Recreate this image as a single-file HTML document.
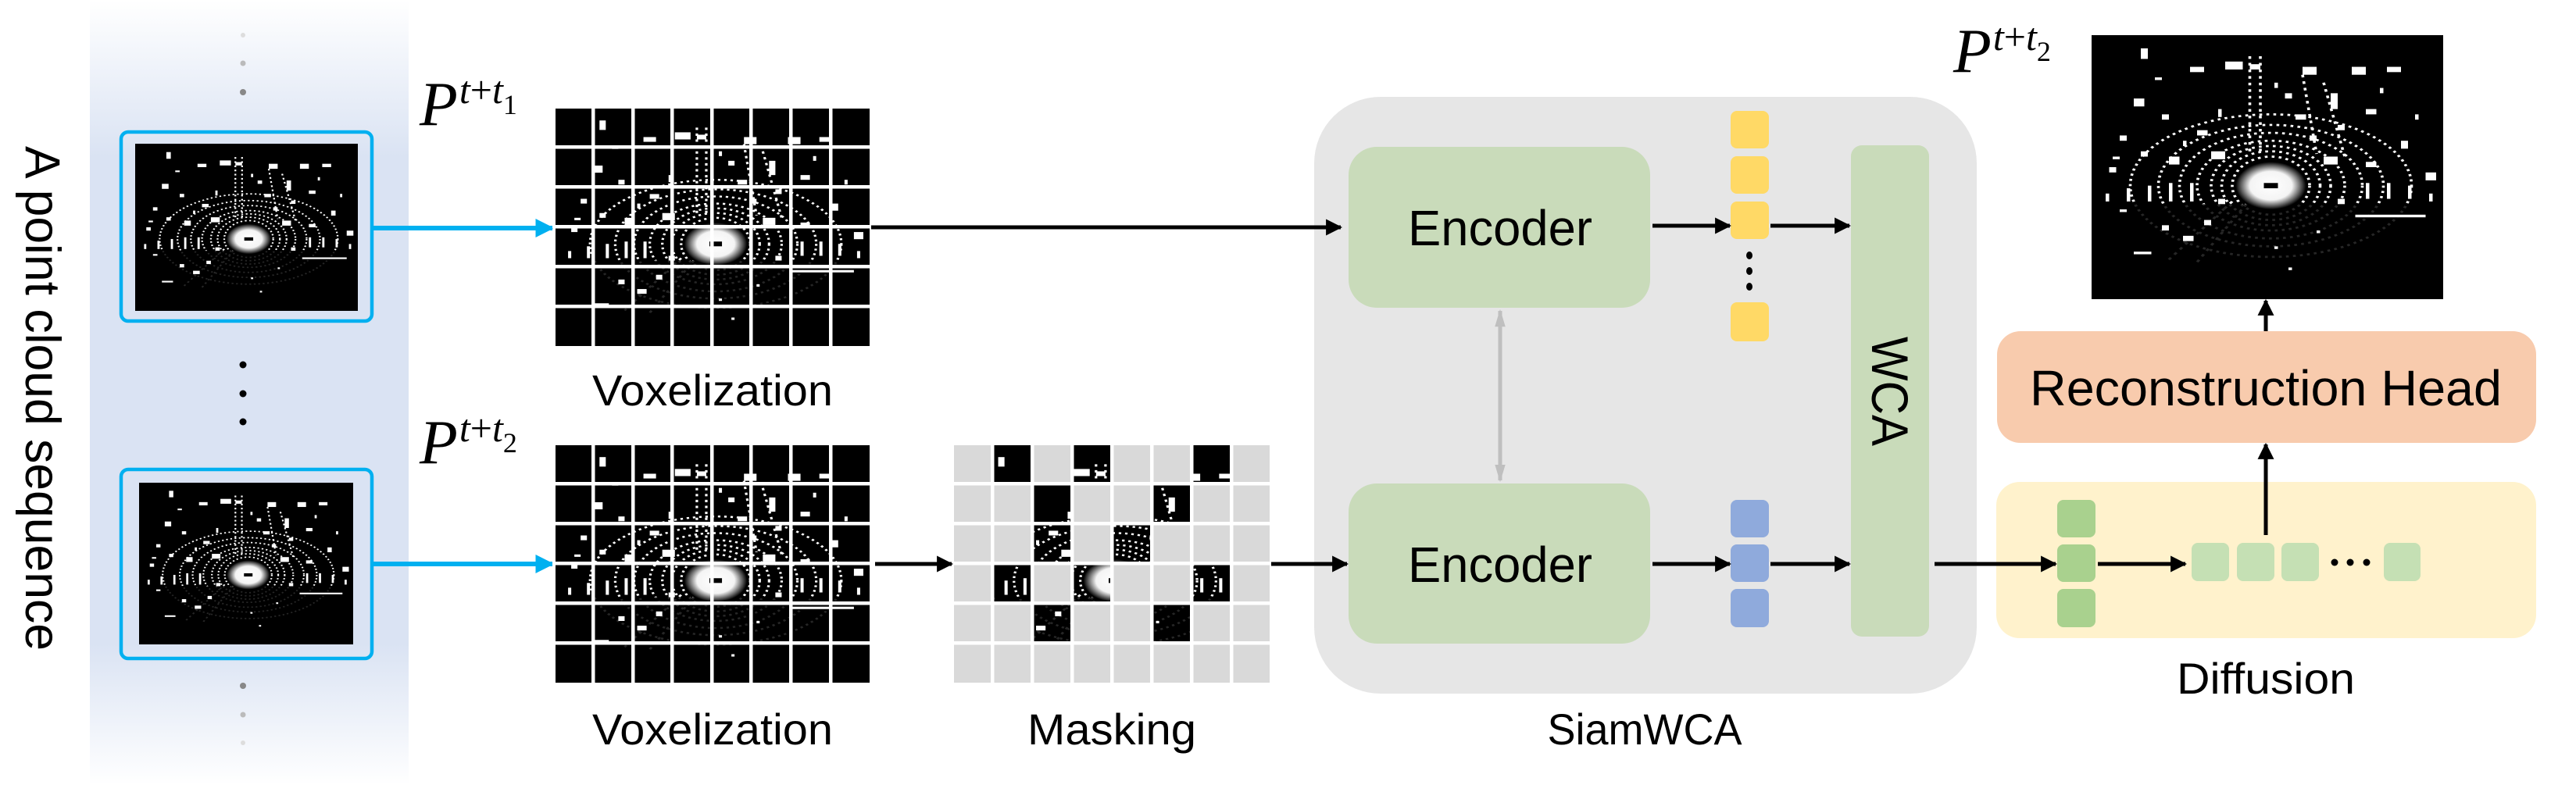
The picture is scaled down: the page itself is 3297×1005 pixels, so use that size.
<!DOCTYPE html>
<html><head><meta charset="utf-8"><style>html,body{margin:0;padding:0;background:#fff}svg{display:block}</style></head>
<body>
<svg width="3297" height="1005" viewBox="0 0 3297 1005" xmlns="http://www.w3.org/2000/svg" font-family="'Liberation Sans Narrow','Liberation Sans',sans-serif">
<defs>
<linearGradient id="band" x1="0" y1="0" x2="0" y2="1">
<stop offset="0" stop-color="#dae3f3" stop-opacity="0"/>
<stop offset="0.2" stop-color="#dae3f3" stop-opacity="1"/>
<stop offset="0.82" stop-color="#dae3f3" stop-opacity="1"/>
<stop offset="1" stop-color="#dae3f3" stop-opacity="0"/>
</linearGradient>
<radialGradient id="glow" cx="0.5" cy="0.5" r="0.5">
<stop offset="0" stop-color="#fff"/><stop offset="0.6" stop-color="#f4f4f4"/><stop offset="1" stop-color="#fff" stop-opacity="0"/>
</radialGradient>
<symbol id="pc" viewBox="0 0 100 100" preserveAspectRatio="none">
<rect width="100" height="100" fill="#000"/>
<g fill="none" stroke="#fff" stroke-width="0.8" stroke-dasharray="0.8 1.2">
<ellipse cx="51" cy="57" rx="11" ry="11"/><ellipse cx="51" cy="57" rx="14" ry="13"/><ellipse cx="51" cy="57" rx="17" ry="15"/><ellipse cx="51" cy="57" rx="21" ry="17"/><ellipse cx="51" cy="57" rx="26" ry="20"/><ellipse cx="51" cy="57" rx="32" ry="23"/><ellipse cx="51" cy="57" rx="40" ry="27"/>
</g>
<g stroke="#fff" stroke-width="0.8" stroke-dasharray="1 1.5">
<line x1="45" y1="8" x2="45" y2="45"/><line x1="48" y1="8" x2="48" y2="45"/><line x1="60" y1="15" x2="64" y2="45"/><line x1="66" y1="18" x2="72" y2="46"/>
<line x1="40" y1="63" x2="22" y2="85"/><line x1="44" y1="64" x2="30" y2="86"/>
</g>
<rect x="0" y="64" width="100" height="36" fill="#000" opacity="0.85"/>
<ellipse cx="51" cy="57" rx="10" ry="9" fill="url(#glow)"/>
<rect x="49" y="56" width="4" height="2" fill="#000"/>
<g fill="#fff">
<rect x="14" y="5" width="2" height="4"/><rect x="28" y="12" width="4" height="2"/><rect x="38" y="10" width="5" height="3"/><rect x="45" y="11" width="3" height="2"/><rect x="60" y="12" width="4" height="3"/><rect x="74" y="12" width="4" height="3"/><rect x="84" y="12" width="4" height="2"/>
<rect x="12" y="24" width="3" height="3"/><rect x="20" y="30" width="2" height="2"/><rect x="8" y="38" width="2" height="2"/><rect x="30" y="36" width="3" height="2"/><rect x="68" y="22" width="2" height="6"/><rect x="78" y="28" width="3" height="2"/><rect x="88" y="40" width="2" height="3"/>
<rect x="55" y="22" width="2" height="2"/><rect x="58" y="30" width="3" height="2"/><rect x="62" y="38" width="2" height="2"/><rect x="34" y="44" width="4" height="3"/><rect x="22" y="46" width="3" height="3"/><rect x="66" y="46" width="4" height="3"/><rect x="78" y="48" width="3" height="2"/>
<rect x="5" y="50" width="2" height="2"/><rect x="95" y="52" width="3" height="3"/><rect x="75" y="68" width="20" height="1"/>
<rect x="10" y="58" width="1" height="5"/><rect x="16" y="57" width="1" height="6"/><rect x="22" y="56" width="1" height="7"/><rect x="28" y="56" width="1" height="7"/><rect x="78" y="56" width="1" height="6"/><rect x="84" y="56" width="1" height="6"/><rect x="90" y="57" width="1" height="5"/>
<rect x="20" y="72" width="2" height="2"/><rect x="26" y="76" width="3" height="2"/><rect x="32" y="70" width="2" height="2"/><rect x="12" y="82" width="5" height="1"/><rect x="52" y="80" width="1" height="1"/><rect x="56" y="88" width="1" height="1"/><rect x="64" y="74" width="1" height="1"/>
<rect x="6" y="46" width="2" height="1"/><rect x="14" y="44" width="2" height="2"/><rect x="26" y="40" width="1" height="2"/><rect x="36" y="28" width="1" height="3"/><rect x="52" y="18" width="1" height="2"/><rect x="70" y="34" width="2" height="2"/><rect x="82" y="20" width="1" height="2"/><rect x="92" y="30" width="1" height="2"/><rect x="18" y="16" width="2" height="1"/><rect x="4" y="60" width="1" height="3"/><rect x="96" y="60" width="1" height="3"/><rect x="36" y="62" width="2" height="2"/><rect x="70" y="62" width="2" height="2"/><rect x="8" y="66" width="2" height="1"/>
</g>
</symbol>
<marker id="ab" viewBox="0 0 10 10" refX="9" refY="5" markerWidth="4.2" markerHeight="4.2" orient="auto"><path d="M0,0L10,5L0,10z" fill="#000"/></marker>
<marker id="ac" viewBox="0 0 10 10" refX="9" refY="5" markerWidth="4" markerHeight="4" orient="auto"><path d="M0,0L10,5L0,10z" fill="#00b0f0"/></marker>
<marker id="ag" viewBox="0 0 10 10" refX="9" refY="5" markerWidth="4.5" markerHeight="5" orient="auto-start-reverse"><path d="M0,2L10,5L0,8z" fill="#bfbfbf"/></marker>
</defs>

<rect x="115" y="0" width="408" height="1005" fill="url(#band)"/>
<text transform="translate(33,187) rotate(90)" font-family="'Liberation Sans',sans-serif" font-size="63" textLength="646" lengthAdjust="spacingAndGlyphs" fill="#000">A point cloud sequence</text>
<g fill="#888"><circle cx="311" cy="45" r="3" fill="#ddd"/><circle cx="311" cy="81" r="3.5" fill="#bbb"/><circle cx="311" cy="118" r="4"/></g>
<g fill="#000"><circle cx="311" cy="467" r="4.5"/><circle cx="311" cy="504" r="4.5"/><circle cx="311" cy="540" r="4.5"/></g>
<g><circle cx="311" cy="878" r="4" fill="#888"/><circle cx="311" cy="915" r="3.5" fill="#bbb"/><circle cx="311" cy="951" r="3" fill="#ddd"/></g>
<rect x="155" y="169" width="321" height="242" rx="9" fill="none" stroke="#00b0f0" stroke-width="4.5"/>
<use href="#pc" x="173" y="184" width="285" height="214"/>
<rect x="155" y="601" width="321" height="242" rx="9" fill="none" stroke="#00b0f0" stroke-width="4.5"/>
<use href="#pc" x="178" y="618" width="274" height="207"/>
<line x1="478" y1="292" x2="707" y2="292" stroke="#00b0f0" stroke-width="6" marker-end="url(#ac)"/>
<line x1="478" y1="722" x2="707" y2="722" stroke="#00b0f0" stroke-width="6" marker-end="url(#ac)"/>

<use href="#pc" x="711" y="139" width="402" height="304"/>
<g fill="#fff">
<rect x="757" y="135" width="4.5" height="312"/><rect x="808" y="135" width="4.5" height="312"/><rect x="858" y="135" width="4.5" height="312"/><rect x="909" y="135" width="4.5" height="312"/><rect x="959" y="135" width="4.5" height="312"/><rect x="1010" y="135" width="4.5" height="312"/><rect x="1061" y="135" width="4.5" height="312"/>
<rect x="707" y="186" width="410" height="4.5"/><rect x="707" y="237" width="410" height="4.5"/><rect x="707" y="288" width="410" height="4.5"/><rect x="707" y="339" width="410" height="4.5"/><rect x="707" y="390" width="410" height="4.5"/>
</g>
<use href="#pc" x="711" y="570" width="402" height="304"/>
<g fill="#fff">
<rect x="757" y="566" width="4.5" height="312"/><rect x="808" y="566" width="4.5" height="312"/><rect x="858" y="566" width="4.5" height="312"/><rect x="909" y="566" width="4.5" height="312"/><rect x="959" y="566" width="4.5" height="312"/><rect x="1010" y="566" width="4.5" height="312"/><rect x="1061" y="566" width="4.5" height="312"/>
<rect x="707" y="617" width="410" height="4.5"/><rect x="707" y="668" width="410" height="4.5"/><rect x="707" y="719" width="410" height="4.5"/><rect x="707" y="770" width="410" height="4.5"/><rect x="707" y="821" width="410" height="4.5"/>
</g>

<use href="#pc" x="1221" y="570" width="404" height="304"/>
<g fill="#d9d9d9">
<rect x="1221" y="570" width="47" height="47"/><rect x="1323" y="570" width="47" height="47"/><rect x="1425" y="570" width="98" height="47"/><rect x="1578" y="570" width="47" height="47"/>
<rect x="1221" y="621" width="98" height="47"/><rect x="1374" y="621" width="98" height="47"/><rect x="1527" y="621" width="98" height="47"/>
<rect x="1221" y="672" width="98" height="47"/><rect x="1374" y="672" width="47" height="47"/><rect x="1476" y="672" width="149" height="47"/>
<rect x="1221" y="723" width="47" height="47"/><rect x="1323" y="723" width="47" height="47"/><rect x="1425" y="723" width="98" height="47"/><rect x="1578" y="723" width="47" height="47"/>
<rect x="1221" y="774" width="98" height="47"/><rect x="1374" y="774" width="98" height="47"/><rect x="1527" y="774" width="98" height="47"/>
<rect x="1221" y="825" width="404" height="49"/>
</g>
<g fill="#fff">
<rect x="1268" y="566" width="4.5" height="312"/><rect x="1319" y="566" width="4.5" height="312"/><rect x="1370" y="566" width="4.5" height="312"/><rect x="1421" y="566" width="4.5" height="312"/><rect x="1472" y="566" width="4.5" height="312"/><rect x="1523" y="566" width="4.5" height="312"/><rect x="1574" y="566" width="4.5" height="312"/>
<rect x="1217" y="617" width="412" height="4.5"/><rect x="1217" y="668" width="412" height="4.5"/><rect x="1217" y="719" width="412" height="4.5"/><rect x="1217" y="770" width="412" height="4.5"/><rect x="1217" y="821" width="412" height="4.5"/>
</g>

<text x="537" y="160" font-family="'Liberation Serif',serif" font-style="italic" font-size="80">P<tspan font-size="50" dy="-28" dx="2">t</tspan><tspan font-size="50" font-style="normal">+</tspan><tspan font-size="50">t</tspan><tspan font-size="36" font-style="normal" dy="14">1</tspan></text>
<text x="537" y="593" font-family="'Liberation Serif',serif" font-style="italic" font-size="80">P<tspan font-size="50" dy="-28" dx="2">t</tspan><tspan font-size="50" font-style="normal">+</tspan><tspan font-size="50">t</tspan><tspan font-size="36" font-style="normal" dy="14">2</tspan></text>
<text x="2500" y="92" font-family="'Liberation Serif',serif" font-style="italic" font-size="80">P<tspan font-size="50" dy="-28" dx="2">t</tspan><tspan font-size="50" font-style="normal">+</tspan><tspan font-size="50">t</tspan><tspan font-size="36" font-style="normal" dy="14">2</tspan></text>

<text x="912" y="519" font-size="56" text-anchor="middle" textLength="308" lengthAdjust="spacingAndGlyphs">Voxelization</text>
<text x="912" y="953" font-size="56" text-anchor="middle" textLength="308" lengthAdjust="spacingAndGlyphs">Voxelization</text>
<text x="1423" y="953" font-size="56" text-anchor="middle" textLength="216" lengthAdjust="spacingAndGlyphs">Masking</text>

<line x1="1115" y1="291" x2="1716" y2="291" stroke="#000" stroke-width="5" marker-end="url(#ab)"/>
<line x1="1120" y1="722" x2="1218" y2="722" stroke="#000" stroke-width="5" marker-end="url(#ab)"/>

<rect x="1682" y="124" width="848" height="764" rx="85" fill="#e6e6e6"/>
<line x1="1115" y1="291" x2="1716" y2="291" stroke="#000" stroke-width="5" marker-end="url(#ab)"/>
<line x1="1627" y1="722" x2="1724" y2="722" stroke="#000" stroke-width="5" marker-end="url(#ab)"/>
<rect x="1726" y="188" width="386" height="206" rx="36" fill="#c9dbba"/>
<rect x="1726" y="619" width="386" height="205" rx="36" fill="#c9dbba"/>
<text x="1920" y="314" font-size="64" text-anchor="middle" textLength="236" lengthAdjust="spacingAndGlyphs">Encoder</text>
<text x="1920" y="745" font-size="64" text-anchor="middle" textLength="236" lengthAdjust="spacingAndGlyphs">Encoder</text>
<line x1="1920" y1="398" x2="1920" y2="615" stroke="#bfbfbf" stroke-width="5" marker-start="url(#ag)" marker-end="url(#ag)"/>
<g fill="#ffd966">
<rect x="2215" y="142" width="49" height="48" rx="8"/><rect x="2215" y="200" width="49" height="48" rx="8"/><rect x="2215" y="258" width="49" height="48" rx="8"/><rect x="2215" y="387" width="49" height="50" rx="8"/>
</g>
<g fill="#000"><ellipse cx="2239" cy="327" rx="4" ry="5"/><ellipse cx="2239" cy="347" rx="4" ry="5"/><ellipse cx="2239" cy="367" rx="4" ry="5"/></g>
<g fill="#8faadc">
<rect x="2215" y="640" width="49" height="48" rx="8"/><rect x="2215" y="697" width="49" height="48" rx="8"/><rect x="2215" y="754" width="49" height="49" rx="8"/>
</g>
<rect x="2369" y="186" width="100" height="629" rx="14" fill="#c9dbba"/>
<text transform="translate(2396,431) rotate(90)" font-family="'Liberation Sans',sans-serif" font-size="66" textLength="140" lengthAdjust="spacingAndGlyphs">WCA</text>
<line x1="2115" y1="289" x2="2214" y2="289" stroke="#000" stroke-width="5" marker-end="url(#ab)"/>
<line x1="2266" y1="289" x2="2367" y2="289" stroke="#000" stroke-width="5" marker-end="url(#ab)"/>
<line x1="2115" y1="722" x2="2214" y2="722" stroke="#000" stroke-width="5" marker-end="url(#ab)"/>
<line x1="2266" y1="722" x2="2367" y2="722" stroke="#000" stroke-width="5" marker-end="url(#ab)"/>
<text x="2105" y="953" font-size="56" text-anchor="middle" textLength="249" lengthAdjust="spacingAndGlyphs">SiamWCA</text>

<rect x="2555" y="617" width="691" height="200" rx="30" fill="#fff2cc"/>
<line x1="2476" y1="722" x2="2631" y2="722" stroke="#000" stroke-width="5" marker-end="url(#ab)"/>
<g fill="#a9d18e">
<rect x="2633" y="640" width="49" height="48" rx="8"/><rect x="2633" y="697" width="49" height="48" rx="8"/><rect x="2633" y="754" width="49" height="49" rx="8"/>
</g>
<line x1="2685" y1="722" x2="2797" y2="722" stroke="#000" stroke-width="5" marker-end="url(#ab)"/>
<g fill="#c5e0b4">
<rect x="2805" y="695" width="48" height="49" rx="8"/><rect x="2863" y="695" width="48" height="49" rx="8"/><rect x="2920" y="695" width="48" height="49" rx="8"/><rect x="3051" y="695" width="47" height="49" rx="8"/>
</g>
<g fill="#000"><circle cx="2988" cy="720" r="4.5"/><circle cx="3008" cy="720" r="4.5"/><circle cx="3029" cy="720" r="4.5"/></g>
<line x1="2900" y1="685" x2="2900" y2="569" stroke="#000" stroke-width="5" marker-end="url(#ab)"/>
<text x="2900" y="888" font-size="56" text-anchor="middle" textLength="228" lengthAdjust="spacingAndGlyphs">Diffusion</text>

<rect x="2556" y="424" width="690" height="143" rx="30" fill="#f8cbad"/>
<text x="2900" y="519" font-size="64" text-anchor="middle" textLength="604" lengthAdjust="spacingAndGlyphs">Reconstruction Head</text>
<line x1="2900" y1="424" x2="2900" y2="385" stroke="#000" stroke-width="5" marker-end="url(#ab)"/>
<use href="#pc" x="2677" y="45" width="450" height="338"/>
</svg>
</body></html>
